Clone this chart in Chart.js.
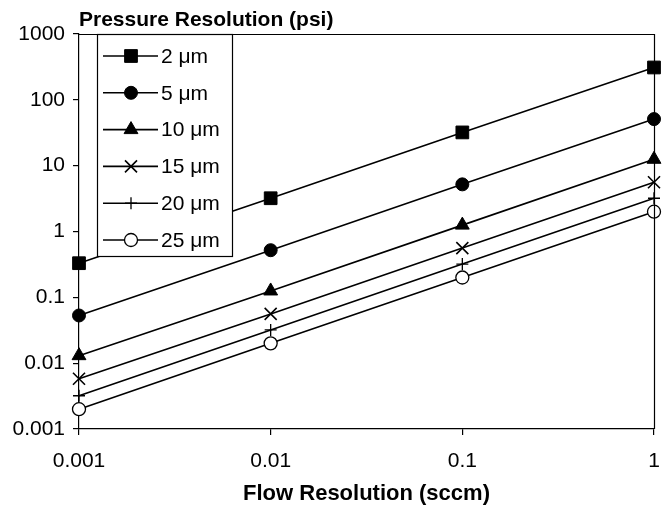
<!DOCTYPE html>
<html>
<head>
<meta charset="utf-8">
<title>Pressure vs Flow Resolution</title>
<script src="https://cdn.jsdelivr.net/npm/chart.js@4"></script>
<style>
  html, body { margin: 0; padding: 0; background: #fff; }
  canvas { display: block; }
</style>
</head>
<body>
<canvas id="chart" width="667" height="508"></canvas>
<script>
// Flow resolution (sccm) on the x axis
const flow = [0.001, 0.01, 0.1, 1];

// Pressure resolution (psi) per orifice size
const p2um = [0.33, 3.2, 32, 310];
const p5um = [0.053, 0.52, 5.2, 51];
const p10um = [0.013, 0.125, 1.25, 12.5];
const p15um = [0.0058, 0.056, 0.56, 5.6];
const p20um = [0.0032, 0.032, 0.32, 3.2];
const p25um = [0.002, 0.02, 0.2, 2.0];

const seriesLabels = ['2 \u03bcm', '5 \u03bcm', '10 \u03bcm', '15 \u03bcm', '20 \u03bcm', '25 \u03bcm'];
const seriesValues = [p2um, p5um, p10um, p15um, p20um, p25um];

// Tick labels
const xTicks = [0.001, 0.01, 0.1, 1];
const yTicks = [0.001, 0.01, 0.1, 1, 10, 100, 1000];

const FONT = 'Arial, "Liberation Sans", Helvetica, sans-serif';

// Marker look for each series
const markers = [
  { pointStyle: 'rect', radius: 9, bg: '#000', bw: 1 },
  { pointStyle: 'circle', radius: 6.5, bg: '#000', bw: 1 },
  { pointStyle: 'triangle', radius: 8, bg: '#000', bw: 1 },
  { pointStyle: 'crossRot', radius: 8.5, bg: '#000', bw: 1.6 },
  { pointStyle: 'cross', radius: 6, bg: '#000', bw: 1.3 },
  { pointStyle: 'circle', radius: 6.5, bg: '#fff', bw: 1.3 }
];

const datasets = seriesValues.map((vals, i) => ({
  label: seriesLabels[i],
  data: vals.map((v, j) => ({ x: flow[j], y: v })),
  borderColor: '#000',
  borderWidth: 1.6,
  pointStyle: markers[i].pointStyle,
  pointRadius: markers[i].radius,
  pointBackgroundColor: markers[i].bg,
  pointBorderColor: '#000',
  pointBorderWidth: markers[i].bw,
  tension: 0,
  clip: false
}));

// Frame, y title and the boxed legend inside the plot
const decorations = {
  id: 'decorations',
  afterDatasetsDraw(chart) {
    const ctx = chart.ctx;
    const area = chart.chartArea;
    ctx.save();

    // top and right frame lines
    ctx.strokeStyle = '#000';
    ctx.lineWidth = 1.2;
    ctx.beginPath();
    ctx.moveTo(area.left, area.top + 0.5);
    ctx.lineTo(area.right + 0.5, area.top + 0.5);
    ctx.lineTo(area.right + 0.5, area.bottom);
    ctx.stroke();

    // legend box
    const lx = 97, ly = area.top, lw = 135, lh = 222;
    ctx.fillStyle = '#fff';
    ctx.fillRect(lx, ly, lw, lh);
    ctx.lineWidth = 1.2;
    ctx.strokeRect(lx + 0.5, ly + 0.5, lw, lh);

    ctx.font = '21px ' + FONT;
    ctx.textBaseline = 'middle';
    ctx.textAlign = 'left';
    chart.data.datasets.forEach((ds, i) => {
      const y = 56 + i * 36.8;
      ctx.strokeStyle = '#000';
      ctx.lineWidth = 1.6;
      ctx.beginPath();
      ctx.moveTo(103, y);
      ctx.lineTo(158, y);
      ctx.stroke();
      ctx.fillStyle = ds.pointBackgroundColor;
      ctx.strokeStyle = '#000';
      ctx.lineWidth = ds.pointBorderWidth;
      Chart.helpers.drawPoint(ctx, {
        pointStyle: ds.pointStyle,
        radius: ds.pointRadius,
        rotation: 0,
        borderWidth: ds.pointBorderWidth
      }, 131, y);
      ctx.fillStyle = '#000';
      ctx.fillText(ds.label, 161, y + 1);
    });

    // y axis title, written horizontally above the plot
    ctx.font = 'bold 21px ' + FONT;
    ctx.textBaseline = 'middle';
    ctx.fillText('Pressure Resolution (psi)', area.left, 20);
    ctx.restore();
  }
};

new Chart(document.getElementById('chart'), {
  type: 'line',
  data: { datasets },
  options: {
    responsive: false,
    animation: false,
    layout: { padding: { top: 34, right: 13, left: 0, bottom: 0 } },
    plugins: {
      legend: { display: false },
      tooltip: { enabled: false }
    },
    scales: {
      x: {
        type: 'logarithmic',
        min: 0.001,
        max: 1,
        afterBuildTicks: (scale) => { scale.ticks = xTicks.map(v => ({ value: v })); },
        afterFit: (scale) => {
          scale.height = 79;
          scale.paddingLeft = 0;
          scale.paddingRight = 0;
        },
        ticks: {
          color: '#000',
          font: { family: FONT, size: 21 },
          padding: 14,
          maxRotation: 0,
          autoSkip: false,
          callback: (v) => String(v)
        },
        grid: { drawOnChartArea: false, color: '#000', tickLength: 6, lineWidth: 1.2 },
        border: { color: '#000', width: 1.2 },
        title: {
          display: true,
          text: 'Flow Resolution (sccm)',
          color: '#000',
          font: { family: FONT, size: 22, weight: 'bold' },
          padding: { top: 0, bottom: 1 }
        }
      },
      y: {
        type: 'logarithmic',
        min: 0.001,
        max: 1000,
        afterBuildTicks: (scale) => { scale.ticks = yTicks.map(v => ({ value: v })); },
        afterFit: (scale) => {
          scale.width = 79;
          scale.paddingTop = 0;
          scale.paddingBottom = 0;
        },
        ticks: {
          color: '#000',
          font: { family: FONT, size: 21 },
          padding: 8,
          autoSkip: false,
          callback: (v) => String(v)
        },
        grid: { drawOnChartArea: false, color: '#000', tickLength: 6, lineWidth: 1.2 },
        border: { color: '#000', width: 1.2 }
      }
    }
  },
  plugins: [decorations]
});
</script>
</body>
</html>
